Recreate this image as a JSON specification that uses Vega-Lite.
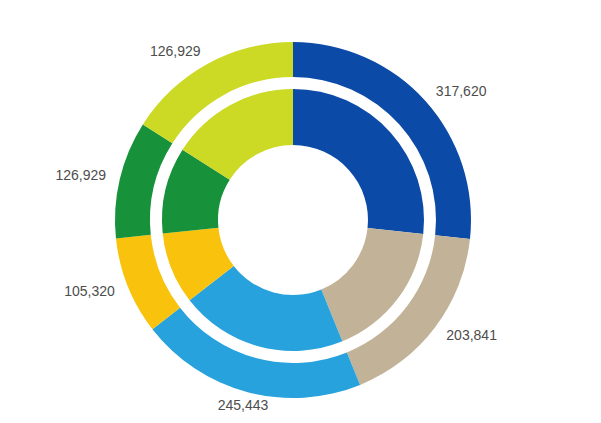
{
  "$schema": "https://vega.github.io/schema/vega-lite/v6.json",
  "width": 586,
  "height": 440,
  "autosize": "none",
  "padding": 0,
  "background": "white",
  "view": {"stroke": null},
  "data": {
    "values": [
      {"idx": 1, "segment": "A", "side": "right", "value": 317620, "label": "317,620"},
      {"idx": 2, "segment": "B", "side": "right", "value": 203841, "label": "203,841"},
      {"idx": 3, "segment": "C", "side": "bottom", "value": 245443, "label": "245,443"},
      {"idx": 4, "segment": "D", "side": "left", "value": 105320, "label": "105,320"},
      {"idx": 5, "segment": "E", "side": "left", "value": 126929, "label": "126,929"},
      {"idx": 6, "segment": "F", "side": "left", "value": 190000, "label": "126,929"}
    ]
  },
  "encoding": {
    "theta": {"field": "value", "type": "quantitative", "stack": true},
    "order": {"field": "idx", "type": "quantitative", "sort": "ascending"},
    "color": {
      "field": "segment",
      "type": "nominal",
      "scale": {
        "domain": ["A", "B", "C", "D", "E", "F"],
        "range": ["#0b4aa6", "#c2b297", "#27a2dc", "#f9c20d", "#17913a", "#ccd925"]
      },
      "legend": null
    }
  },
  "layer": [
    {"mark": {"type": "arc", "innerRadius": 143, "outerRadius": 178}},
    {"mark": {"type": "arc", "innerRadius": 75, "outerRadius": 131}},
    {
      "mark": {"type": "text", "radius": 192, "align": "left", "font": "Liberation Sans", "fontSize": 14},
      "encoding": {
        "text": {"condition": {"test": "datum.side === 'right'", "field": "label"}, "value": ""},
        "color": {"value": "#4d4d4d"}
      }
    },
    {
      "mark": {"type": "text", "radius": 192, "align": "right", "font": "Liberation Sans", "fontSize": 14},
      "encoding": {
        "text": {"condition": {"test": "datum.side === 'left'", "field": "label"}, "value": ""},
        "color": {"value": "#4d4d4d"}
      }
    },
    {
      "mark": {"type": "text", "radius": 193, "align": "center", "font": "Liberation Sans", "fontSize": 14},
      "encoding": {
        "text": {"condition": {"test": "datum.side === 'bottom'", "field": "label"}, "value": ""},
        "color": {"value": "#4d4d4d"}
      }
    }
  ]
}
